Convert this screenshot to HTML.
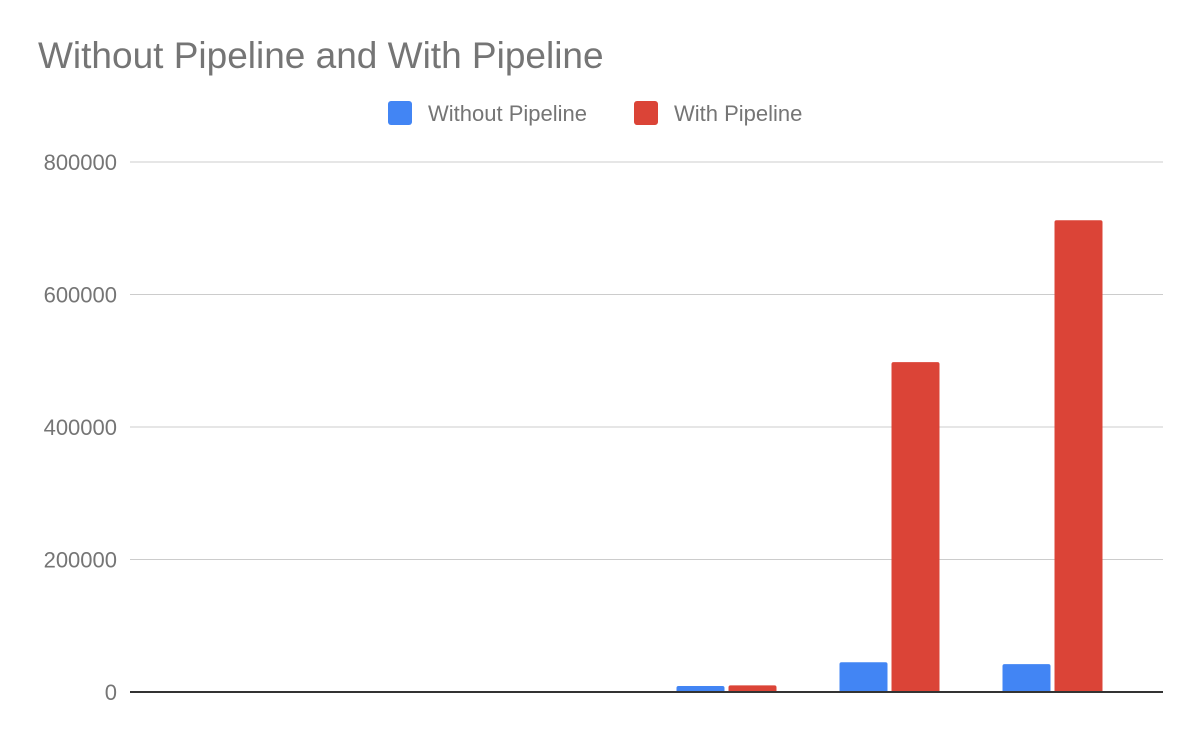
<!DOCTYPE html>
<html><head><meta charset="utf-8"><style>
body{margin:0;background:#fff;}
svg{display:block;font-family:"Liberation Sans",Roboto,sans-serif;}
</style></head><body>
<svg id="chart" width="1200" height="742">
<text x="38" y="68" font-size="37" fill="#757575">Without Pipeline and With Pipeline</text>
<g>
<rect x="388" y="101" width="24" height="24" rx="3" fill="#4285f4"/>
<text x="428" y="121" font-size="22" fill="#757575">Without Pipeline</text>
<rect x="634" y="101" width="24" height="24" rx="3" fill="#db4437"/>
<text x="674" y="121" font-size="22" fill="#757575">With Pipeline</text>
</g>
<g id="grid"></g><g id="bars"></g>
</svg>
<script>
const categories = ["c1","c2","c3","c4","c5","c6"];
const withoutPipeline = [0, 0, 0, 9000, 45000, 42000];
const withPipeline = [0, 0, 0, 10000, 498000, 712000];
const yTicks = [0, 200000, 400000, 600000, 800000];
const yMax = 800000;

const NS = "http://www.w3.org/2000/svg";
const plotTop = 162, plotBottom = 692, plotLeft = 130, plotRight = 1163;
const bandStart = 156, bandW = 163;
function y(v){ return plotBottom - v / yMax * (plotBottom - plotTop); }
function bandCenter(i){ return bandStart + bandW * i + bandW / 2; }
function mk(tag, attrs){ const e = document.createElementNS(NS, tag); for (const k in attrs) e.setAttribute(k, attrs[k]); return e; }

const grid = document.getElementById("grid");
yTicks.forEach(t => {
  const ln = mk("line", {x1: plotLeft, x2: plotRight, y1: y(t), y2: y(t), stroke: t === 0 ? "#333" : "#ccc", "stroke-width": t === 0 ? 2 : 1});
  
  
  grid.appendChild(ln);
  const tx = mk("text", {x: 117, y: y(t) + 8, "text-anchor": "end", "font-size": 22, fill: "#757575"});
  tx.textContent = String(t);
  
  
  grid.appendChild(tx);
});

const bars = document.getElementById("bars");
const bw = 48, gap = 4;
categories.forEach((c, i) => {
  const cx = bandCenter(i);
  [[withoutPipeline[i], "#4285f4", cx - gap / 2 - bw, "without"], [withPipeline[i], "#db4437", cx + gap / 2, "with"]].forEach(([v, col, x, s]) => {
    if (v <= 0) return;
    const h = plotBottom - y(v);
    const r = mk("path", {d: `M${x},${plotBottom} V${y(v) + 2} Q${x},${y(v)} ${x + 2},${y(v)} H${x + bw - 2} Q${x + bw},${y(v)} ${x + bw},${y(v) + 2} V${plotBottom} Z`, fill: col});
    
    
    bars.appendChild(r);
  });
});
bars.parentNode.appendChild(grid.firstChild);
</script>
</body></html>
